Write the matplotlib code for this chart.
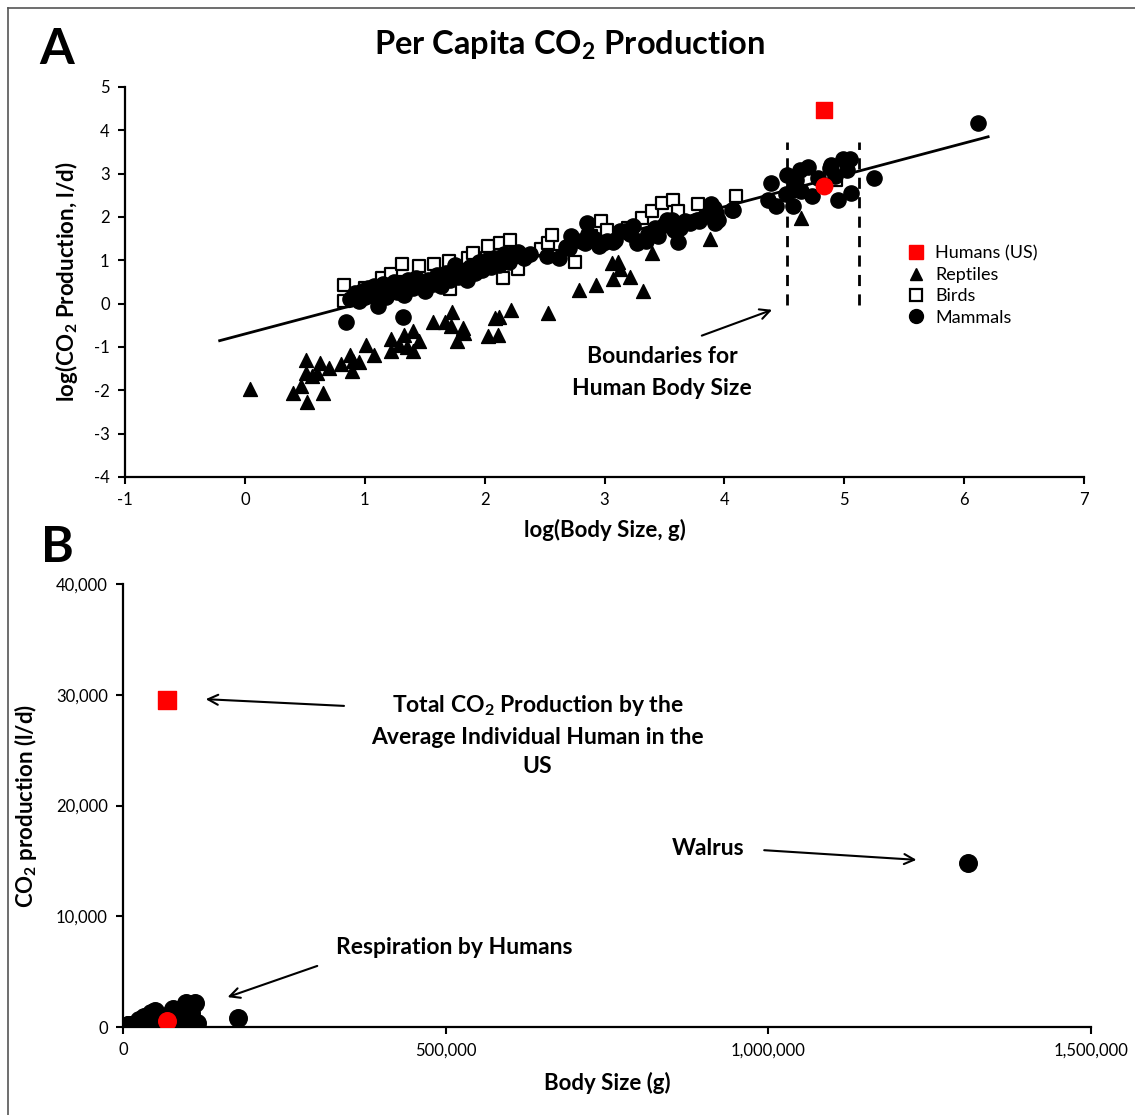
import matplotlib
matplotlib.use("Agg")
import matplotlib.pyplot as plt
from matplotlib.ticker import FuncFormatter
from matplotlib.lines import Line2D
import numpy as np

plt.rcParams['font.family'] = ['Lato', 'DejaVu Sans']
plt.rcParams['mathtext.fontset'] = 'custom'
plt.rcParams['mathtext.rm'] = 'Lato:bold'
plt.rcParams['mathtext.bf'] = 'Lato:bold'
plt.rcParams['axes.unicode_minus'] = False

# ---- data, panel A: log10(body size, g) and log10(CO2, l/d) ----
mam_x = [0.84, 1.11, 1.32, 0.88, 0.92, 0.95, 0.98, 1.00, 1.03, 1.06,
         1.08, 1.12, 1.15, 1.18, 1.20, 1.24, 1.27, 1.30, 1.33, 1.36,
         1.40, 1.43, 1.46, 1.50, 1.53, 1.57, 1.60, 1.64, 1.68, 1.71,
         1.75, 1.78, 1.82, 1.85, 1.88, 1.92, 1.95, 1.98, 2.02, 2.05,
         2.08, 2.12, 2.16, 2.20, 2.24, 2.28, 2.33, 2.38, 2.52, 2.62,
         2.68, 2.70, 2.72, 2.80, 2.84, 2.85, 2.86, 2.92, 2.95, 2.99,
         3.02, 3.07, 3.09, 3.13, 3.17, 3.24, 3.21, 3.27, 3.28, 3.35,
         3.36, 3.45, 3.42, 3.50, 3.52, 3.56, 3.61, 3.58, 3.63, 3.67,
         3.71, 3.77, 3.79, 3.84, 3.88, 3.89, 3.91, 3.92, 3.93, 3.95,
         4.06, 4.07, 4.36, 4.39, 4.43, 4.51, 4.52, 4.57, 4.57, 4.60,
         4.63, 4.64, 4.70, 4.73, 4.78, 4.88, 4.89, 4.92, 4.95, 4.99,
         5.02, 5.05, 5.06, 5.25, 6.117]
mam_y = [-0.42, -0.06, -0.31, 0.10, 0.25, 0.05, 0.30, 0.15, 0.35, 0.20,
         0.40, 0.25, 0.45, 0.15, 0.35, 0.50, 0.28, 0.42, 0.20, 0.55,
         0.35, 0.60, 0.40, 0.30, 0.55, 0.45, 0.65, 0.40, 0.70, 0.55,
         0.90, 0.62, 0.75, 0.55, 0.85, 0.70, 0.95, 0.78, 1.00, 0.85,
         1.05, 0.90, 1.15, 0.95, 1.10, 1.20, 1.05, 1.15, 1.10, 1.05,
         1.30, 1.28, 1.55, 1.45, 1.40, 1.86, 1.60, 1.50, 1.32, 1.40,
         1.44, 1.42, 1.48, 1.67, 1.67, 1.79, 1.60, 1.40, 1.44, 1.44,
         1.60, 1.55, 1.75, 1.82, 1.94, 1.94, 1.42, 1.70, 1.75, 1.90,
         1.86, 1.94, 1.90, 2.02, 2.13, 2.29, 2.20, 1.86, 2.09, 1.94,
         2.17, 2.15, 2.40, 2.79, 2.25, 2.52, 2.96, 2.63, 2.26, 2.86,
         3.09, 2.59, 3.16, 2.48, 2.90, 3.13, 3.21, 2.94, 2.40, 3.34,
         3.09, 3.33, 2.56, 2.89, 4.17]

bird_x = [0.83, 0.83, 1.00, 1.10, 1.14, 1.22, 1.30, 1.31, 1.40, 1.45,
          1.58, 1.70, 1.71, 1.80, 1.86, 1.90, 2.02, 2.03, 2.04, 2.13,
          2.15, 2.21, 2.25, 2.28, 2.47, 2.53, 2.56, 2.59, 2.75, 2.89,
          2.97, 3.02, 3.20, 3.31, 3.40, 3.48, 3.57, 3.61, 3.78, 4.10,
          4.93]
bird_y = [0.42, 0.07, 0.35, 0.30, 0.59, 0.69, 0.50, 0.92, 0.55, 0.86,
          0.92, 0.98, 0.34, 0.85, 1.05, 1.17, 1.05, 1.32, 0.86, 1.40,
          0.59, 1.48, 1.15, 0.79, 1.25, 1.40, 1.59, 1.09, 0.95, 1.55,
          1.90, 1.71, 1.75, 1.98, 2.13, 2.32, 2.40, 2.13, 2.29, 2.49,
          2.86]

rep_x = [0.04, 0.40, 0.47, 0.52, 0.51, 0.51, 0.56, 0.60, 0.63, 0.65,
         0.70, 0.80, 0.88, 0.89, 0.90, 0.95, 1.01, 1.08, 1.22, 1.22,
         1.29, 1.33, 1.35, 1.40, 1.40, 1.45, 1.57, 1.67, 1.73, 1.72,
         1.77, 1.82, 1.83, 2.03, 2.11, 2.09, 2.12, 2.22, 2.53, 2.79,
         2.93, 3.06, 3.11, 3.07, 3.13, 3.21, 3.32, 3.40, 3.88, 4.64]
rep_y = [-1.97, -2.06, -1.89, -2.28, -1.29, -1.60, -1.68, -1.60, -1.37, -2.06,
         -1.49, -1.39, -1.19, -1.56, -1.33, -1.35, -0.95, -1.18, -0.82, -1.10,
         -0.95, -0.72, -0.99, -0.64, -1.10, -0.87, -0.43, -0.43, -0.20, -0.52,
         -0.87, -0.56, -0.68, -0.74, -0.72, -0.33, -0.31, -0.14, -0.22, 0.31,
         0.44, 0.94, 0.95, 0.57, 0.79, 0.62, 0.30, 1.18, 1.49, 1.98]

human_sq = (4.83, 4.47)     # total CO2 per US individual
human_resp = (4.83, 2.72)   # respiration only

fit_slope = 0.734
fit_icpt = -0.70
fit_range = [-0.21, 6.20]
bounds = [4.52, 5.12]

fig = plt.figure(figsize=(11.35, 11.15), dpi=100)

# outer frame (left/top edges visible)
fig.add_artist(Line2D([8/1135, 8/1135], [0, 1 - 8/1115], color='#555555', lw=1.2))
fig.add_artist(Line2D([8/1135, 1], [1 - 8/1115, 1 - 8/1115], color='#555555', lw=1.2))

def style(ax):
    for s in ['top', 'right']:
        ax.spines[s].set_visible(False)
    for s in ['left', 'bottom']:
        ax.spines[s].set_linewidth(1.6)
    ax.tick_params(direction='out', length=5, width=1.5, labelsize=12, pad=6)

LBL = 16
ANN = 16.5

# ---------------- panel A ----------------
axA = fig.add_axes([0.1101, 0.5722, 0.845, 0.3498])
style(axA)
fx = np.array(fit_range)
axA.plot(fx, fit_icpt + fit_slope * fx, color='black', lw=2, zorder=1)
axA.scatter(rep_x, rep_y, marker='^', s=100, color='black', zorder=2)
axA.scatter(bird_x, bird_y, marker='s', s=85, facecolor='white', edgecolor='black', linewidth=1.6, zorder=3)
axA.scatter(mam_x, mam_y, marker='o', s=120, color='black', zorder=4)
axA.scatter([human_resp[0]], [human_resp[1]], marker='o', s=140, color='red', zorder=5)
axA.scatter([human_sq[0]], [human_sq[1]], marker='s', s=140, color='red', zorder=5)
for b in bounds:
    axA.plot([b, b], [-0.02, 3.72], color='black', lw=2, ls=(0, (4, 3)), zorder=1)

axA.set_xlim(-1, 7)
axA.set_ylim(-4, 5)
axA.set_xticks(range(-1, 8))
axA.set_yticks(range(-4, 6))
axA.set_xlabel('log(Body Size, g)', fontsize=LBL, fontweight='bold', labelpad=8)
axA.set_ylabel('log(CO$_2$ Production, l/d)', fontsize=LBL, fontweight='bold', labelpad=10)

axA.text(3.48, -1.59, 'Boundaries for\nHuman Body Size', ha='center', va='center',
         fontsize=ANN, fontweight='bold', linespacing=1.6)
axA.annotate('', xy=(4.42, -0.12), xytext=(3.79, -0.76),
             arrowprops=dict(arrowstyle='->', color='black', lw=1.5, mutation_scale=18))

handles = [
    Line2D([], [], ls='none', marker='s', ms=10, color='red'),
    Line2D([], [], ls='none', marker='^', ms=9, color='black'),
    Line2D([], [], ls='none', marker='s', ms=9, mfc='white', mec='black', mew=1.6),
    Line2D([], [], ls='none', marker='o', ms=10, color='black'),
]
axA.legend(handles, ['Humans (US)', 'Reptiles', 'Birds', 'Mammals'], loc='upper left',
           bbox_to_anchor=(0.806, 0.617), frameon=False, fontsize=13,
           handlelength=1.0, handletextpad=0.55, labelspacing=0.3, borderpad=0)

# ---------------- panel B ----------------
axB = fig.add_axes([0.1084, 0.0789, 0.8529, 0.3973])
style(axB)
bx = 10 ** np.array(mam_x)
by = 10 ** np.array(mam_y)
axB.scatter(bx, by, marker='o', s=160, color='black', zorder=3)
axB.scatter([10 ** human_resp[0]], [10 ** human_resp[1]], marker='o', s=160, color='red', zorder=4)
axB.scatter([10 ** human_sq[0]], [10 ** human_sq[1]], marker='s', s=180, color='red', zorder=4)

axB.set_xlim(0, 1500000)
axB.set_ylim(0, 40000)
axB.set_xticks([0, 500000, 1000000, 1500000])
axB.set_yticks([0, 10000, 20000, 30000, 40000])
comma = FuncFormatter(lambda v, p: f'{v:,.0f}')
axB.xaxis.set_major_formatter(comma)
axB.yaxis.set_major_formatter(comma)
axB.set_xlabel('Body Size (g)', fontsize=LBL, fontweight='bold', labelpad=10)
axB.set_ylabel('CO$_2$ production (l/d)', fontsize=LBL, fontweight='bold', labelpad=12)

arw = dict(arrowstyle='->', color='black', lw=1.5, mutation_scale=18)
axB.text(642400, 26366, 'Total CO$_2$ Production by the\nAverage Individual Human in the\nUS',
         ha='center', va='center', fontsize=ANN, fontweight='bold', linespacing=1.5)
axB.annotate('', xy=(123800, 29616), xytext=(346700, 28984), arrowprops=arw)
axB.text(907100, 16162, 'Walrus', ha='center', va='center', fontsize=ANN, fontweight='bold')
axB.annotate('', xy=(1233700, 15079), xytext=(989200, 15982), arrowprops=arw)
axB.text(513900, 7224, 'Respiration by Humans', ha='center', va='center', fontsize=ANN, fontweight='bold')
axB.annotate('', xy=(157900, 2619), xytext=(305000, 5598), arrowprops=arw)

# titles and panel letters
fig.text(570/1135, 1 - 45/1115, 'Per Capita CO$_2$ Production', ha='center', va='center',
         fontsize=23.5, fontweight='bold')
fig.text(57/1135, 1 - 50/1115, 'A', ha='center', va='center', fontsize=36, fontweight='bold')
fig.text(57/1135, 1 - 548/1115, 'B', ha='center', va='center', fontsize=36, fontweight='bold')

fig.savefig('out.png', dpi=100)
